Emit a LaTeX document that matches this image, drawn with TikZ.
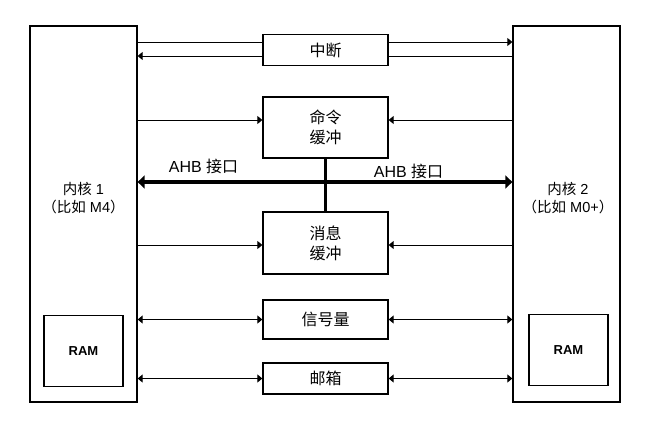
\documentclass[tikz,border=0pt]{standalone}
\usepackage{fontspec}
\setmainfont{Liberation Sans}
\newfontfamily\cjk{Noto Sans CJK SC}
\usetikzlibrary{arrows.meta,positioning}

\begin{document}
\begin{tikzpicture}[x=1pt,y=-1pt,
  core/.style={draw,line width=1.3pt,minimum width=107pt,minimum height=376pt},
  ram/.style={draw,line width=1.3pt,minimum width=79pt,minimum height=71pt,
    font=\bfseries\fontsize{13}{15}\selectfont},
  ipc/.style={draw,line width=1.3pt,minimum width=125pt,align=center,
    font=\cjk\fontsize{16}{20}\selectfont},
  lbl/.style={align=center,font=\fontsize{14.5}{18.5}\selectfont},
  buslbl/.style={font=\fontsize{16}{18}\selectfont},
  link/.style={line width=0.9pt},
  arrow/.style={link,-{Triangle[length=5pt,width=8pt]}},
  both/.style={link,{Triangle[length=5pt,width=8pt]}-{Triangle[length=5pt,width=8pt]}},
  bus/.style={line width=4pt,{Triangle[length=7pt,width=13pt]}-{Triangle[length=7pt,width=13pt]}}
]
\useasboundingbox (0,0) rectangle (654,433);

% the two cores
\node[core] (core1) at (83.5,214) {};
\node[core] (core2) at (566.5,214) {};
\node[lbl] (core1lbl) at (83.5,198) {{\cjk 内核} 1\\{\cjk （比如} M4{\cjk ）}};
\node[lbl] (core2lbl) at (568,198) {{\cjk 内核} 2\\{\cjk （比如} M0+{\cjk ）}};
\node[ram] (ram1) at (83.5,351) {RAM};
\node[ram] (ram2) at (568.5,350) {RAM};

% shared blocks in the middle
\node[ipc, minimum height=31pt] (irq) at (325.5,50) {中断};
\node[ipc, minimum height=61pt] (cmd) at (325.5,127.5) {命令\\缓冲};
\node[ipc, minimum height=62pt] (msg) at (325.5,243) {消息\\缓冲};
\node[ipc, minimum height=39pt] (sem) at (325.5,319.5) {信号量};
\node[ipc, minimum height=31pt] (mbox) at (325.5,378.5) {邮箱};

\coordinate (bus) at (325.5,182);
\node[buslbl] (ahb1) at (203.5,166) {AHB {\cjk 接口}};
\node[buslbl] (ahb2) at (408.5,171) {AHB {\cjk 接口}};

% interrupt lines
\draw[link] ([yshift=8pt]irq.west -| core1.east) -- ([yshift=8pt]irq.west);
\draw[arrow] ([yshift=8pt]irq.east) -- ([yshift=8pt]irq.east -| core2.west);
\draw[link] ([yshift=-6pt]irq.east -| core2.west) -- ([yshift=-6pt]irq.east);
\draw[arrow] ([yshift=-6pt]irq.west) -- ([yshift=-6pt]irq.west -| core1.east);

% buffers
\draw[arrow] ([yshift=7.5pt]cmd.west -| core1.east) -- ([yshift=7.5pt]cmd.west);
\draw[arrow] ([yshift=7.5pt]cmd.east -| core2.west) -- ([yshift=7.5pt]cmd.east);
\draw[arrow] ([yshift=-2pt]msg.west -| core1.east) -- ([yshift=-2pt]msg.west);
\draw[arrow] ([yshift=-2pt]msg.east -| core2.west) -- ([yshift=-2pt]msg.east);

% AHB bus
\draw[bus] (bus -| core1.east) -- (bus -| core2.west);
\draw[line width=3.5pt] (cmd.south) -- (msg.north);

% semaphore and mailbox
\draw[both] (sem.west -| core1.east) -- (sem.west);
\draw[both] (sem.east -| core2.west) -- (sem.east);
\draw[both] (mbox.west -| core1.east) -- (mbox.west);
\draw[both] (mbox.east -| core2.west) -- (mbox.east);
\end{tikzpicture}
\end{document}
